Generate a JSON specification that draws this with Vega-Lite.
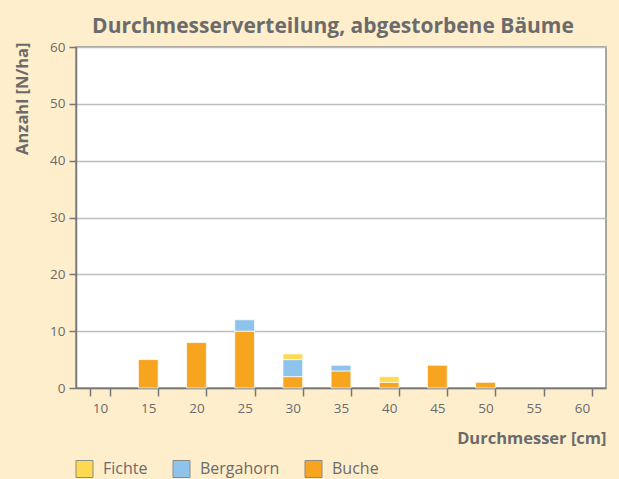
{
  "$schema": "https://vega.github.io/schema/vega-lite/v6.json",
  "width": 530,
  "height": 341,
  "autosize": {"type": "none"},
  "padding": {"left": 76, "top": 47, "right": 13, "bottom": 91},
  "background": "#FFEECC",
  "title": {
    "text": "Durchmesserverteilung, abgestorbene Bäume",
    "font": "Open Sans",
    "fontSize": 21,
    "fontWeight": "bold",
    "color": "#6b6b6b",
    "anchor": "middle",
    "dx": -8,
    "offset": 3
  },
  "config": {
    "view": {"fill": "white", "stroke": "#8a8a8a", "strokeWidth": 1.5},
    "font": "Open Sans"
  },
  "data": {
    "values": [
      {"d": 15, "art": "Buche", "n": 5},
      {"d": 20, "art": "Buche", "n": 8},
      {"d": 25, "art": "Buche", "n": 10},
      {"d": 25, "art": "Bergahorn", "n": 2},
      {"d": 30, "art": "Buche", "n": 2},
      {"d": 30, "art": "Bergahorn", "n": 3},
      {"d": 30, "art": "Fichte", "n": 1},
      {"d": 35, "art": "Buche", "n": 3},
      {"d": 35, "art": "Bergahorn", "n": 1},
      {"d": 40, "art": "Buche", "n": 1},
      {"d": 40, "art": "Fichte", "n": 1},
      {"d": 45, "art": "Buche", "n": 4},
      {"d": 50, "art": "Buche", "n": 1}
    ]
  },
  "transform": [
    {"calculate": "indexof(['Buche','Bergahorn','Fichte'], datum.art)", "as": "ord"}
  ],
  "mark": {"type": "bar", "stroke": "white", "strokeOpacity": 0.7, "strokeWidth": 1},
  "encoding": {
    "x": {
      "field": "d",
      "type": "ordinal",
      "scale": {"domain": [10, 15, 20, 25, 30, 35, 40, 45, 50, 55, 60], "paddingInner": 0.59, "paddingOuter": 0.295},
      "axis": {
        "title": "Durchmesser [cm]",
        "titleFont": "Open Sans",
        "titleFontSize": 16.5,
        "titleFontWeight": "bold",
        "titleColor": "#6b6b6b",
        "titleAnchor": "end",
        "titleAlign": "right",
        "titleX": 530,
        "titleY": 55,
        "titleBaseline": "alphabetic",
        "labelAngle": 0,
        "labelFont": "Open Sans",
        "labelFontSize": 13.5,
        "labelColor": "#6b6b6b",
        "labelPadding": 5,
        "bandPosition": 0,
        "tickBand": "extent",
        "tickSize": 8,
        "tickColor": "#777777",
        "tickWidth": 1.5,
        "domainColor": "#777777",
        "domainWidth": 1.5,
        "grid": false
      }
    },
    "y": {
      "field": "n",
      "type": "quantitative",
      "aggregate": "sum",
      "stack": "zero",
      "scale": {"domain": [0, 60], "nice": false},
      "axis": {
        "values": [0, 10, 20, 30, 40, 50, 60],
        "title": "Anzahl [N/ha]",
        "titleFont": "Open Sans",
        "titleFontSize": 16.5,
        "titleFontWeight": "bold",
        "titleColor": "#6b6b6b",
        "titleAngle": -90,
        "titleAlign": "right",
        "titleBaseline": "middle",
        "titleX": -54,
        "titleY": -5,
        "labelFont": "Open Sans",
        "labelFontSize": 13.5,
        "labelColor": "#6b6b6b",
        "labelPadding": 4,
        "tickSize": 7,
        "tickColor": "#777777",
        "tickWidth": 1.5,
        "domainColor": "#777777",
        "domainWidth": 1.5,
        "grid": true,
        "gridColor": "#bdbdbd",
        "gridWidth": 1.5
      }
    },
    "color": {
      "field": "art",
      "type": "nominal",
      "scale": {
        "domain": ["Fichte", "Bergahorn", "Buche"],
        "range": ["#FFD94F", "#8EC4EC", "#F7A51E"]
      },
      "legend": {
        "title": null,
        "orient": "none",
        "direction": "horizontal",
        "legendX": -1,
        "legendY": 412,
        "symbolType": "square",
        "symbolSize": 290,
        "symbolStrokeColor": "#8a8a8a",
        "symbolStrokeWidth": 1,
        "symbolOpacity": 1,
        "labelFont": "Open Sans",
        "labelFontSize": 16,
        "labelColor": "#6b6b6b",
        "labelOffset": 9,
        "columnPadding": 22
      }
    },
    "order": {"field": "ord", "type": "quantitative"}
  }
}
